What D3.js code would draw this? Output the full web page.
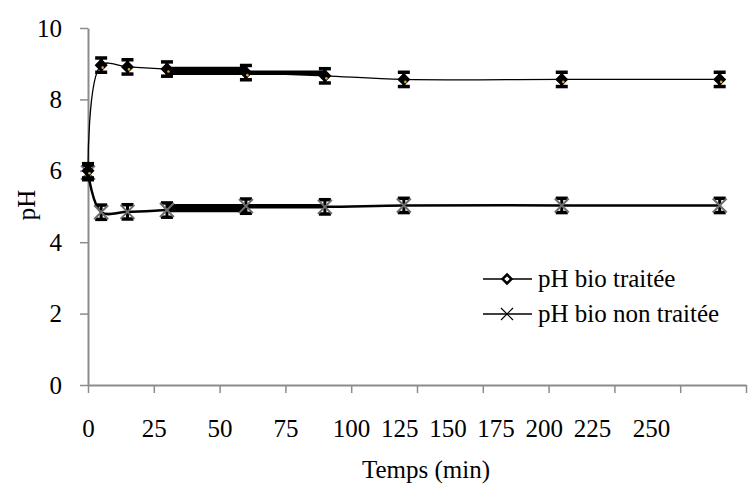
<!DOCTYPE html>
<html>
<head>
<meta charset="utf-8">
<script src="https://cdn.jsdelivr.net/npm/d3@7"></script>
<style>
  body { margin: 0; background: #fff; }
</style>
</head>
<body>
<svg id="chart" width="754" height="493"></svg>
<script>
// data
var temps = [0, 5, 15, 30, 60, 90, 120, 180, 240];
var phTraitee = [6.0, 8.96, 8.91, 8.85, 8.75, 8.66, 8.56, 8.56, 8.56];
var phNonTraitee = [5.95, 4.84, 4.85, 4.9, 5.01, 4.99, 5.03, 5.03, 5.03];
var errTraitee = [0.2, 0.2, 0.2, 0.2, 0.2, 0.2, 0.2, 0.2, 0.2];
var errNonTraitee = [0.2, 0.2, 0.2, 0.2, 0.2, 0.2, 0.2, 0.2, 0.2];
// horizontal error (min) before / after each point
var xErrMoins = [0, 0, 0, 0, 30, 0, 0, 0, 0];
var xErrPlus = [0, 0, 0, 30, 30, 0, 0, 0, 0];
var xTicks = [0, 25, 50, 75, 100, 125, 150, 175, 200, 225, 250];
var yTicks = [0, 2, 4, 6, 8, 10];
var seriesNames = ["pH bio traitée", "pH bio non traitée"];

var svg = d3.select('#chart');
var margin = { top: 28, left: 88, bottom: 108, right: 8 };
var width = 754, height = 493;
var serif = "'Liberation Serif'";
var fontSize = 25;

var x = d3.scaleLinear().domain([0, 250]).range([margin.left, width - margin.right]);
var y = d3.scaleLinear().domain([0, 10]).range([height - margin.bottom, margin.top]);
// the tick labels of the original sit off their ticks past 75
var xLabel = d3.scaleLinear().domain([0, 75, 100, 225, 250]).range([x(0), x(75), 351, 592, 651]);

var axisColor = "#8c8c8c";

// x axis (ticks only)
var gx = svg.append("g")
    .attr("transform", "translate(0," + y(0) + ")")
    .call(d3.axisBottom(x).tickValues(xTicks).tickSize(8).tickFormat("").tickSizeOuter(0));
gx.select(".domain").attr("stroke", axisColor).attr("stroke-width", 2);
gx.selectAll(".tick line").attr("stroke", axisColor).attr("stroke-width", 1.5);

// x labels
var gxl = svg.append("g")
    .attr("transform", "translate(0," + y(0) + ")")
    .call(d3.axisBottom(xLabel).tickValues(xTicks).tickSize(0).tickPadding(34));
gxl.select(".domain").remove();
gxl.attr("font-family", null).attr("font-size", null);
gxl.selectAll("text").style("font-family", serif).style("font-size", fontSize + "px").attr("fill", "#000");

// y axis
var gy = svg.append("g")
    .attr("transform", "translate(" + x(0) + ",0)")
    .call(d3.axisLeft(y).tickValues(yTicks).tickSize(8).tickPadding(18).tickSizeOuter(0));
gy.select(".domain").attr("stroke", axisColor).attr("stroke-width", 2);
gy.selectAll(".tick line").attr("stroke", axisColor).attr("stroke-width", 1.5);
gy.attr("font-family", null).attr("font-size", null);
gy.selectAll("text").style("font-family", serif).style("font-size", fontSize + "px").attr("fill", "#000");

// axis titles
svg.append("text")
    .attr("x", 426).attr("y", 478)
    .style("text-anchor", "middle")
    .style("font-family", serif).style("font-size", fontSize + "px")
    .text("Temps (min)");

svg.append("text")
    .attr("transform", "translate(35," + 205 + "), rotate(-90)")
    .style("text-anchor", "middle")
    .style("font-family", serif).style("font-size", fontSize + "px")
    .text("pH");

function drawSeries(values, errs, lineWidth, marker) {
    var pts = temps.map(function (t, i) { return [t, values[i], errs[i], xErrMoins[i], xErrPlus[i]]; });
    var g = svg.append("g");

    // horizontal error bars
    g.selectAll("line.xerr")
        .data(pts.filter(function (d) { return d[3] > 0 || d[4] > 0; }))
        .enter().append("line")
        .attr("x1", function (d) { return x(d[0] - d[3]); })
        .attr("x2", function (d) { return x(d[0] + d[4]); })
        .attr("y1", function (d) { return y(d[1]); })
        .attr("y2", function (d) { return y(d[1]); })
        .attr("stroke", "#000").attr("stroke-width", 4.5);

    var line = d3.line()
        .x(function (d) { return x(d[0]); })
        .y(function (d) { return y(d[1]); })
        .curve(d3.curveCatmullRom.alpha(0.5));
    g.append("path")
        .datum(pts)
        .attr("d", line)
        .attr("fill", "none")
        .attr("stroke", "#000")
        .attr("stroke-width", lineWidth);

    // vertical error bars
    var eb = g.selectAll("g.eb").data(pts).enter().append("g");
    eb.append("line")
        .attr("x1", function (d) { return x(d[0]); })
        .attr("x2", function (d) { return x(d[0]); })
        .attr("y1", function (d) { return y(d[1] - d[2]); })
        .attr("y2", function (d) { return y(d[1] + d[2]); })
        .attr("stroke", "#000").attr("stroke-width", 3);
    [-1, 1].forEach(function (s) {
        eb.append("line")
            .attr("x1", function (d) { return x(d[0]) - 6; })
            .attr("x2", function (d) { return x(d[0]) + 6; })
            .attr("y1", function (d) { return y(d[1] + s * d[2]); })
            .attr("y2", function (d) { return y(d[1] + s * d[2]); })
            .attr("stroke", "#000").attr("stroke-width", 3.5);
    });

    eb.each(function (d) {
        marker(d3.select(this), x(d[0]), y(d[1]), false);
    });
}

function diamond(sel, cx, cy, legend) {
    var r = legend ? 4.5 : 5.5;
    sel.append("path")
        .attr("d", "M" + cx + "," + (cy - r) + "L" + (cx + r) + "," + cy + "L" + cx + "," + (cy + r) + "L" + (cx - r) + "," + cy + "Z")
        .attr("fill", legend ? "#fff" : "#000")
        .attr("stroke", "#000").attr("stroke-width", legend ? 2.5 : 1.5);
    if (!legend) {
        sel.append("circle").attr("cx", cx + 1.5).attr("cy", cy + 2.5).attr("r", 1.3).attr("fill", "#d9a441");
    }
}

function cross(sel, cx, cy, legend) {
    var r = legend ? 6 : 7;
    sel.append("path")
        .attr("d", "M" + (cx - r) + "," + (cy - r) + "L" + (cx + r) + "," + (cy + r) + "M" + (cx - r) + "," + (cy + r) + "L" + (cx + r) + "," + (cy - r))
        .attr("stroke", legend ? "#000" : "#6e6e6e")
        .attr("stroke-width", legend ? 1.2 : 2);
}

drawSeries(phNonTraitee, errNonTraitee, 2.5, cross);
drawSeries(phTraitee, errTraitee, 1.3, diamond);

// legend
var legendRows = [279, 314];
var markers = [diamond, cross];
seriesNames.forEach(function (name, i) {
    var lg = svg.append("g");
    lg.append("line")
        .attr("x1", 483).attr("x2", 532)
        .attr("y1", legendRows[i]).attr("y2", legendRows[i])
        .attr("stroke", "#000").attr("stroke-width", 1.5);
    markers[i](lg, 507, legendRows[i], true);
    lg.append("text")
        .attr("x", 538).attr("y", legendRows[i] + 8)
        .style("font-family", serif).style("font-size", fontSize + "px")
        .text(name);
});
</script>
</body>
</html>
